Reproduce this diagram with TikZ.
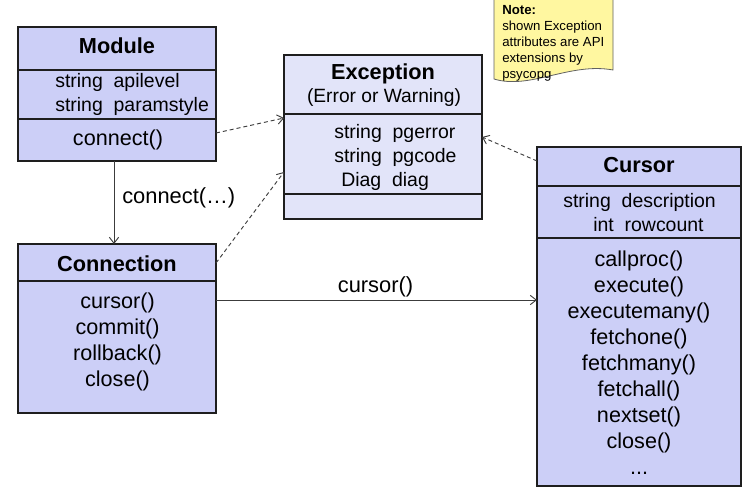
\documentclass[tikz,border=0pt]{standalone}
\usepackage{fontspec}
\setmainfont{Liberation Sans}
\usetikzlibrary{arrows.meta}

\definecolor{classfill}{RGB}{204,207,247}
\definecolor{excfill}{RGB}{226,228,249}
\definecolor{notefill}{RGB}{255,247,160}
\definecolor{boxline}{RGB}{30,30,30}
\definecolor{linkline}{RGB}{60,60,60}

\begin{document}
\begin{tikzpicture}[x=0.75pt,y=0.75pt,yscale=-1,xscale=1,
  classbox/.style 2 args={draw=boxline, fill=classfill, line width=0.9pt, inner sep=0pt, outer sep=0pt, minimum width=#1*0.75pt, minimum height=#2*0.75pt},
  titletext/.style={inner sep=0.75pt, font=\fontsize{16.3}{19.5}\selectfont\bfseries},
  attrtext/.style={inner sep=0.75pt, align=left, anchor=west, font=\fontsize{14.6}{17.4}\selectfont},
  optext/.style={inner sep=0.75pt, align=center, font=\fontsize{16.2}{19.5}\selectfont},
  link/.style={draw=linkline, line width=0.7pt, -{Straight Barb[length=4.5pt,width=7pt]}},
  deplink/.style={link, dash pattern=on 3pt off 2.25pt}]
\useasboundingbox (0,0) rectangle (748,494);

%Shape: Note
\draw [draw=boxline!70, fill=notefill, line width=0.6pt] (494,-5) -- (494,79) .. controls (530,90) and (570,62) .. (613,70) -- (613,-5) ;
% Text Node
\node [anchor=north west, inner sep=0pt, align=left, font=\fontsize{9.9}{12}\selectfont] (notetext) at (502,5.5) {\textbf{Note:}\\shown Exception\\attributes are API\\extensions by\\psycopg};

%Shape: Module
\node [classbox={198}{134}] (module) at (117,94) {};
\draw [boxline, line width=0.9pt] (module.west |- 0,70) -- (module.east |- 0,70) ;
\draw [boxline, line width=0.9pt] (module.west |- 0,119) -- (module.east |- 0,119) ;
\node [titletext] (moduletitle) at (117,46) {Module};
\node [attrtext] (moduleattr) at (54,94.5) {string\ \ apilevel\\string\ \ paramstyle};
\node [optext] (moduleop) at (118,140) {connect()};

%Shape: Connection
\node [classbox={198}{169}] (connection) at (117,328.5) {};
\draw [boxline, line width=0.9pt] (connection.west |- 0,281) -- (connection.east |- 0,281) ;
\node [titletext] (conntitle) at (117,264) {Connection};
\node [optext] (connop) at (117.5,341.5) {cursor()\\commit()\\rollback()\\close()};

%Shape: Exception
\node [classbox={198}{164}, fill=excfill] (exception) at (383,137) {};
\draw [boxline, line width=0.9pt] (exception.west |- 0,114) -- (exception.east |- 0,114) ;
\draw [boxline, line width=0.9pt] (exception.west |- 0,194) -- (exception.east |- 0,194) ;
\node [titletext] (exctitle) at (383,73.5) {Exception};
\node [inner sep=0.75pt, font=\fontsize{14.4}{17}\selectfont] (excsub) at (384,98) {(Error or Warning)};
\node [attrtext, font=\fontsize{14.6}{18}\selectfont] (excattr) at (333,157) {string\ \ pgerror\\string\ \ pgcode\\\hspace{5.25pt}Diag\ \ diag};

%Shape: Cursor
\node [classbox={204}{339}] (cursor) at (639,316.5) {};
\draw [boxline, line width=0.9pt] (cursor.west |- 0,186) -- (cursor.east |- 0,186) ;
\draw [boxline, line width=0.9pt] (cursor.west |- 0,238) -- (cursor.east |- 0,238) ;
\node [titletext] (cursortitle) at (639,165) {Cursor};
\node [attrtext] (cursorattr) at (562,212.5) {string\ \ description\\\hspace{22.5pt}int\ \ rowcount};
\node [optext] (cursorop) at (639,362.5) {callproc()\\execute()\\executemany()\\fetchone()\\fetchmany()\\fetchall()\\nextset()\\close()\\...};

% Connection
\draw [link] (module.south -| 114,0) -- (connection.north -| 114,0) ;
\node [anchor=west, inner sep=0pt, font=\fontsize{16.4}{19.5}\selectfont] (connectlabel) at (122,198) {connect(\dots)};
% Connection
\draw [link] (connection.east |- 0,300) -- (cursor.west |- 0,300) ;
\node [inner sep=0pt, font=\fontsize{16.4}{19.5}\selectfont] (cursorlabel) at (375.5,286.5) {cursor()};
% Connection
\draw [deplink] (module.east |- 0,133) -- (exception.west |- 0,118) ;
\draw [deplink] (connection.east |- 0,263) -- (exception.west |- 0,172) ;
\draw [deplink] (cursor.west |- 0,161) -- (exception.east |- 0,137) ;

\end{tikzpicture}
\end{document}
